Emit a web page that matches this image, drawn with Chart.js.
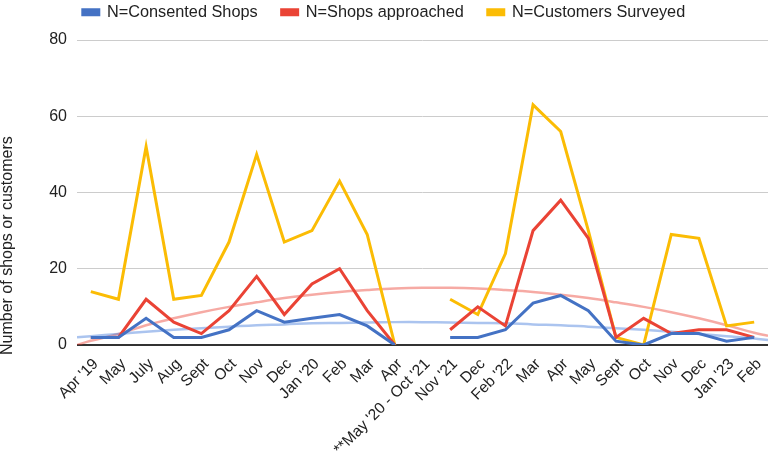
<!DOCTYPE html>
<html>
<head>
<meta charset="utf-8">
<script src="https://cdn.jsdelivr.net/npm/chart.js@4/dist/chart.umd.min.js"></script>
<style>
html,body{margin:0;padding:0;background:#fff;}
#wrap{position:relative;width:770px;height:453px;}
</style>
</head>
<body>
<div id="wrap"><canvas id="c"></canvas></div>
<script>
const categories = ["Apr '19","May","July","Aug","Sept","Oct","Nov","Dec","Jan '20","Feb","Mar","Apr","**May '20 - Oct '21","Nov '21","Dec","Feb '22","Mar","Apr","May","Sept","Oct","Nov","Dec","Jan '23","Feb"];
const consentedShops   = [2,2,7,2,2,4,9,6,7,8,5,0,null,2,2,4,11,13,9,1,0,3,3,1,2];
const shopsApproached  = [2,2,12,6,3,9,18,8,16,20,9,0,null,4,10,5,30,38,28,2,7,3,4,4,2];
const customersSurveyed= [14,12,52,12,13,27,50,27,30,43,29,0,null,12,8,24,63,56,30,2,0,29,28,5,6];
// trendline readings at positions along the axis (edge to edge)
const trendPositions = [-0.5,0,1,2,3,4,5,6,7,8,9,10,11,12,13,14,15,16,17,18,19,20,21,22,23,24,24.5];
const consentedTrend = [2,2.3,2.9,3.5,4.0,4.4,4.8,5.2,5.4,5.7,5.8,5.9,6,6,5.9,5.8,5.7,5.4,5.2,4.8,4.4,4.0,3.5,2.9,2.3,1.7,1.3];
const approachedTrend = [0,1.1,2.9,5.2,7,8.6,10,11.2,12.3,13.2,13.9,14.4,14.8,15,15,14.8,14.4,13.9,13.2,12.3,11.2,10,8.6,7,5.2,3.2,2.4];
const yTicks = [0,20,40,60,80];
const yTitle = 'Number of shops or customers';

const BLUE = '#4472C4', RED = '#EA4335', YELLOW = '#FBBC04';
const FONT = "'Liberation Sans', Arial, sans-serif";

const toPts = arr => arr.map((v,i)=>({x:i,y:v}));
const toTrend = arr => arr.map((v,i)=>({x:trendPositions[i],y:v}));

const lineDs = (label, arr, color) => ({
  label, data: toPts(arr), borderColor: color, backgroundColor: color,
  borderWidth: 3, pointRadius: 0, tension: 0, spanGaps: false, order: 1,
  borderJoinStyle: 'miter'
});
const trendDs = (arr, color) => ({
  label: '_trend', data: toTrend(arr), borderColor: color, borderWidth: 2.5,
  pointRadius: 0, tension: 0.4, order: 10, fill: false
});

const customLayout = {
  id: 'customLayout',
  beforeInit(chart){
    const lg = chart.legend;
    if (lg){
      const orig = lg.fit;
      lg.fit = function(){ orig.call(this); this.height = 40; };
    }
  },
  afterLayout(chart){
    const lg = chart.legend;
    if (lg){ lg.top -= 20; lg.bottom -= 20; }
  },
  afterDraw(chart){
    const ctx = chart.ctx;
    ctx.save();
    ctx.translate(8, 355);
    ctx.rotate(-Math.PI/2);
    ctx.font = '16px ' + FONT;
    ctx.fillStyle = '#222';
    ctx.textAlign = 'left';
    ctx.textBaseline = 'middle';
    ctx.fillText(yTitle, 0, 0);
    ctx.restore();
  }
};

new Chart(document.getElementById('c'), {
  type: 'line',
  data: {
    datasets: [
      lineDs('N=Consented Shops', consentedShops, BLUE),
      lineDs('N=Shops approached', shopsApproached, RED),
      lineDs('N=Customers Surveyed', customersSurveyed, YELLOW),
      trendDs(consentedTrend, 'rgba(68,124,220,0.45)'),
      trendDs(approachedTrend, 'rgba(234,67,53,0.45)')
    ]
  },
  options: {
    responsive: true,
    maintainAspectRatio: false,
    animation: false,
    layout: { padding: { left: 0, right: 2, top: 0, bottom: 0 } },
    plugins: {
      tooltip: { enabled: false },
      legend: {
        position: 'top',
        labels: {
          filter: item => item.text !== '_trend',
          boxWidth: 16, boxHeight: 5, padding: 24,
          color: '#222', font: { family: FONT, size: 16.3 }
        }
      }
    },
    scales: {
      x: {
        type: 'linear', min: -0.5, max: 24.5,
        afterBuildTicks: s => { s.ticks = categories.map((c,i)=>({value:i})); },
        afterFit: s => { s.height = 108; },
        grid: { display: false },
        border: { display: false },
        ticks: {
          autoSkip: false, minRotation: 45, maxRotation: 45, padding: 2, labelOffset: 5,
          color: '#222', font: { family: FONT, size: 15.5 },
          callback: v => categories[v]
        }
      },
      y: {
        min: 0, max: 80,
        afterBuildTicks: s => { s.ticks = yTicks.map(v=>({value:v})); },
        afterFit: s => { s.width = 77; },
        grid: {
          drawTicks: false,
          color: c => c.tick && c.tick.value === 0 ? '#333' : '#ccc',
          lineWidth: c => c.tick && c.tick.value === 0 ? 2 : 1
        },
        border: { display: false },
        ticks: { padding: 10, color: '#222', font: { family: FONT, size: 16 } }
      }
    }
  },
  plugins: [customLayout]
});
</script>
</body>
</html>
